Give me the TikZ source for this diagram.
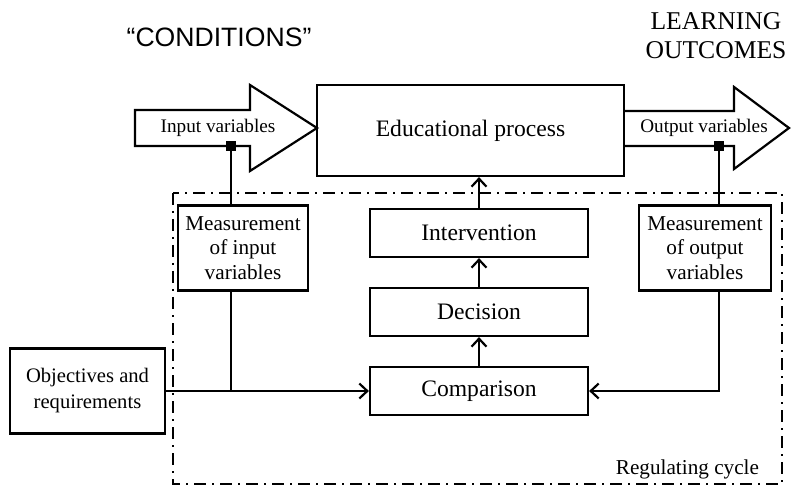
\documentclass[tikz,border=0pt]{standalone}
\usepackage{fontspec}
\setmainfont{Liberation Serif}
\newfontfamily\headsans{Liberation Sans}
\usepackage{tikz}
\usetikzlibrary{shapes.geometric, arrows, arrows.meta, positioning}
\tikzstyle{process} = [rectangle, 
minimum width=109bp, 
minimum height=24bp, 
text centered, 
draw=black, 
line width=1.1bp,
font=\fontsize{11.8bp}{14bp}\selectfont]
\tikzstyle{measure} = [rectangle, 
minimum width=65bp, 
minimum height=42.5bp, 
align=center, 
inner sep=1bp,
draw=black, 
line width=1.1bp,
font=\fontsize{10.6bp}{12.3bp}\selectfont]
\tikzstyle{junction} = [rectangle, 
fill=black, 
minimum size=4.8bp, 
inner sep=0pt]
\tikzstyle{flowtext} = [font=\fontsize{9.6bp}{11bp}\selectfont]
\tikzstyle{wire} = [line width=1.1bp]
\tikzstyle{arrow} = [line width=1.1bp,-{Straight Barb[length=4bp,width=7.5bp]}]
\tikzstyle{bigarrow} = [line width=1.1bp, line join=miter]
\tikzstyle{regloop} = [line width=1.1bp, 
dash pattern=on 6bp off 3bp on 1bp off 3bp]

\begin{document}
\begin{tikzpicture}[x=0.5bp, y=-0.5bp]
\useasboundingbox (0,0) rectangle (791,489);

% regulating cycle frame
\draw [regloop] (173,193) rectangle (782,484);
\node (regcycle) [anchor=east, font=\fontsize{10.6bp}{12bp}\selectfont] at (766,469) {Regulating cycle};

% input and output arrows
\draw [bigarrow] (135,110) -- (250,110) -- (250,85) -- (317,128) -- (250,171) -- (250,146) -- (135,146) -- cycle;
\draw [bigarrow] (624,111) -- (734,111) -- (734,87) -- (789,128) -- (734,169) -- (734,146) -- (624,146);

\node (edu) [process, minimum width=153.5bp, minimum height=45.5bp] at (470.5,130.5) {Educational process};
\node (interv) [process] at (479,233) {Intervention};
\node (decision) [process, below=14.4bp of interv] {Decision};
\node (compare) [process, below=14.4bp of decision] {Comparison};

\node (measin) [measure] at (243,248) {Measurement\\of input\\variables};
\node (measout) [measure, minimum width=66bp] at (705,248) {Measurement\\of output\\variables};
\node (objectives) [measure, minimum width=77.5bp, font=\fontsize{10.3bp}{13bp}\selectfont] at (87.5,391) {Objectives and\\requirements};

\node (intext) [flowtext] at (218,128) {Input variables};
\node (outtext) [flowtext] at (704,128) {Output variables};
\node (conditions) [font=\headsans\fontsize{13.3bp}{16bp}\selectfont] at (219,37) {“CONDITIONS”};
\node (outcomes) [align=center, font=\fontsize{12.8bp}{14.5bp}\selectfont] at (716,36) {LEARNING\\OUTCOMES};

\draw [wire] (231,146) coordinate (inpick) -- (inpick |- measin.north);
\draw [wire] (719,146) coordinate (outpick) -- (outpick |- measout.north);
\draw [arrow] (objectives.east |- compare.west) -- (compare.west);
\draw [wire] (inpick |- measin.south) -- (inpick |- compare.west);
\draw [arrow] (outpick |- measout.south) |- (compare.east);
\draw [arrow] (compare) -- (decision);
\draw [arrow] (decision) -- (interv);
\draw [arrow] (interv) -- (interv |- edu.south);

\node (injoint) [junction] at (inpick) {};
\node (outjoint) [junction] at (outpick) {};

\end{tikzpicture}
\end{document}
